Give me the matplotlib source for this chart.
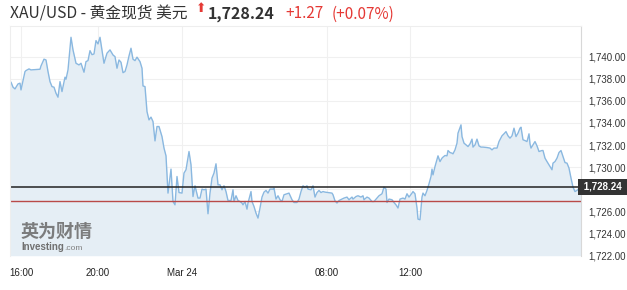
import matplotlib.pyplot as plt
import matplotlib.transforms as mtransforms
import numpy as np

# 数据
idx = [0, 1, 3, 5, 8, 10, 11, 15, 16, 19, 21, 25, 30, 31, 34, 36, 38, 40, 42, 44,
       46, 48, 50, 52, 55, 56, 58, 61, 63, 66, 69, 71, 74, 76, 78, 80, 82, 84, 86, 88,
       90, 94, 97, 100, 103, 105, 107, 109, 111, 113, 115, 117, 119, 121, 123, 125, 127, 130, 132, 133,
       135, 137, 139, 141, 143, 145, 147, 149, 152, 154, 156, 158, 161, 163, 165, 167, 169, 172, 174, 176,
       179, 181, 183, 185, 188, 190, 192, 194, 196, 198, 200, 202, 204, 206, 208, 210, 212, 214, 216, 218,
       221, 223, 224, 226, 228, 230, 232, 233, 235, 237, 238, 241, 242, 244, 246, 248, 250, 252, 254, 256,
       258, 260, 263, 264, 266, 268, 270, 272, 274, 277, 279, 282, 284, 287, 289, 291, 293, 295, 297, 298,
       301, 303, 305, 307, 309, 311, 313, 315, 318, 322, 323, 325, 327, 329, 332, 334, 337, 339, 342, 343,
       346, 348, 351, 353, 354, 357, 359, 362, 364, 367, 369, 372, 374, 376, 377, 379, 382, 384, 386, 388,
       390, 393, 395, 397, 399, 402, 403, 405, 407, 408, 410, 412, 413, 415, 417, 419, 421, 422, 423, 425,
       427, 428, 430, 432, 433, 435, 437, 438, 440, 442, 443, 445, 447, 448, 451, 452, 454, 456, 458, 460,
       462, 463, 465, 467, 469, 471, 473, 477, 480, 482, 484, 487, 489, 492, 494, 496, 498, 500, 502, 504,
       506, 508, 510, 511, 513, 515, 517, 519, 520, 521, 523, 525, 527, 529, 532, 533, 535, 537, 539, 542,
       543, 545, 547, 549, 551, 553, 555, 557, 559, 561, 563, 565, 567, 569, 571]
prices = [1737.75, 1737.69, 1737.24, 1737.08, 1737.53, 1737.60, 1736.99, 1738.65, 1738.74, 1738.89,
          1738.80, 1738.83, 1738.86, 1739.16, 1739.77, 1739.70, 1738.65, 1737.74, 1737.29, 1737.24,
          1736.69, 1736.33, 1737.74, 1736.84, 1738.14, 1737.96, 1738.80, 1741.75, 1740.61, 1739.40,
          1739.25, 1739.40, 1738.59, 1739.55, 1739.64, 1740.54, 1740.18, 1740.24, 1741.45, 1741.15,
          1741.75, 1739.40, 1740.31, 1740.61, 1740.15, 1740.00, 1738.95, 1739.70, 1739.49, 1738.55,
          1738.65, 1739.25, 1740.06, 1740.76, 1739.77, 1739.64, 1739.95, 1739.55, 1738.95, 1737.35,
          1737.29, 1735.03, 1734.28, 1734.53, 1734.13, 1732.38, 1733.68, 1733.68, 1732.77, 1731.73,
          1731.03, 1727.66, 1729.83, 1726.90, 1726.60, 1729.16, 1727.71, 1727.66, 1729.47, 1729.77,
          1731.42, 1730.22, 1727.35, 1728.32, 1727.21, 1727.21, 1728.02, 1727.96, 1728.02, 1725.79,
          1727.66, 1729.02, 1729.47, 1730.31, 1728.41, 1728.41, 1727.96, 1728.32, 1727.80, 1726.99,
          1726.99, 1727.96, 1726.90, 1727.42, 1726.99, 1726.90, 1726.76, 1726.60, 1726.90, 1726.21,
          1726.76, 1727.80, 1726.90, 1726.45, 1725.85, 1725.40, 1726.31, 1727.30, 1727.75, 1727.90,
          1727.66, 1728.02, 1728.02, 1728.11, 1727.12, 1727.42, 1727.06, 1726.90, 1727.51, 1727.60,
          1727.66, 1727.06, 1726.81, 1726.81, 1727.12, 1727.80, 1728.32, 1728.20, 1728.32, 1728.02,
          1727.96, 1728.32, 1727.30, 1727.71, 1727.90, 1727.71, 1727.80, 1727.75, 1727.71, 1727.66,
          1727.51, 1726.96, 1726.76, 1726.99, 1727.12, 1727.21, 1727.30, 1727.06, 1727.30, 1727.12,
          1727.35, 1727.42, 1727.30, 1727.42, 1727.06, 1727.30, 1727.21, 1726.90, 1726.90, 1727.21,
          1727.42, 1727.60, 1728.20, 1728.02, 1726.81, 1727.12, 1727.06, 1726.81, 1726.60, 1726.31,
          1727.12, 1727.21, 1727.12, 1727.60, 1727.30, 1727.66, 1727.80, 1727.60, 1726.31, 1725.31,
          1725.25, 1727.30, 1727.66, 1727.42, 1727.90, 1728.50, 1729.16, 1729.83, 1729.31, 1730.06,
          1730.73, 1731.03, 1730.51, 1730.82, 1730.91, 1731.06, 1731.03, 1731.51, 1731.33, 1731.27,
          1731.21, 1731.57, 1732.18, 1733.08, 1733.83, 1732.77, 1732.18, 1732.02, 1731.87, 1732.11,
          1732.54, 1731.82, 1732.02, 1732.54, 1731.93, 1731.82, 1731.82, 1731.78, 1731.73, 1731.57,
          1731.73, 1731.73, 1732.32, 1732.84, 1733.02, 1733.22, 1732.84, 1732.63, 1732.84, 1733.53,
          1732.77, 1733.08, 1733.53, 1733.62, 1732.48, 1732.41, 1732.32, 1733.02, 1732.11, 1731.73,
          1732.02, 1732.32, 1731.93, 1731.42, 1731.51, 1731.51, 1730.82, 1730.51, 1730.22, 1729.77,
          1730.37, 1730.51, 1730.82, 1731.33, 1731.51, 1730.97, 1730.42, 1730.37, 1729.92, 1729.02,
          1728.20, 1727.80, 1727.90, 1728.10, 1728.24]

tick_pos = [11, 88, 172, 317, 400]
tick_labels = ['16:00', '20:00', 'Mar 24', '08:00', '12:00']
y_ticks = np.arange(1722, 1741, 2)
last_price = 1728.24
prev_close = 1726.97

W, H = 627, 290
fig = plt.figure(figsize=(W / 100, H / 100), dpi=100)
ax = fig.add_axes([10 / W, 1 - 255.7 / H, 571 / W, (255.7 - 26) / H])

ax.fill_between(idx, prices, 1722, color='#e5eef5', lw=0)
ax.plot(idx, prices, color='#8ab8e0', lw=1.0)

ax.axhline(last_price, color='#222222', lw=1.1)
ax.axhline(prev_close, color='#b94a48', lw=1.0)

ax.set_xlim(0, 571)
ax.set_ylim(1722, 1742.77)

ax.set_xticks(tick_pos)
ax.set_xticklabels(tick_labels)
ax.set_yticks(y_ticks)
# 1,728.00 被最新价标签遮住
ax.set_yticklabels(['' if abs(v - last_price) < 0.8 else f'{v:,.2f}' for v in y_ticks])
ax.yaxis.tick_right()
ax.tick_params(axis='y', length=0, pad=5, labelsize=7, labelcolor='#333333')
ax.tick_params(axis='x', length=0, pad=9, labelsize=7, labelcolor='#222222')
for lab in ax.get_xticklabels() + ax.get_yticklabels():
    lab.set_family('Liberation Sans')

ax.grid(True, color='#f0f0f0', lw=0.8)
ax.set_axisbelow(True)
for s in ['left', 'top']:
    ax.spines[s].set_color('#eeeeee')
ax.spines['bottom'].set_visible(False)
ax.spines['right'].set_color('#d8d8d8')

# 最新价标签
trans = mtransforms.blended_transform_factory(ax.transAxes, ax.transData)
ax.text(1.0, last_price, ' 1,728.24 ', transform=trans, ha='left', va='center',
        fontsize=7, color='white', family='Liberation Sans', fontweight='bold',
        bbox=dict(boxstyle='square,pad=0.3', fc='#333333', ec='none'))

# 标题
fig.text(10 / W, 1 - 14 / H, 'XAU/USD - 黄金现货 美元', fontsize=11.3, color='#333333',
         family=['Noto Sans CJK SC', 'DejaVu Sans'], va='center')
fig.text(196 / W, 1 - 9 / H, '⬆', fontsize=9, color='#e53935', family='DejaVu Sans', va='center')
fig.text(208 / W, 1 - 14 / H, '1,728.24', fontsize=11.5, color='#333333', fontweight='bold',
         family='Noto Sans CJK SC', va='center')
fig.text(285 / W, 1 - 14 / H, '+1.27', fontsize=11, color='#e53935',
         family='Noto Sans CJK SC', va='center')
fig.text(332 / W, 1 - 14 / H, '(+0.07%)', fontsize=11, color='#e53935',
         family='Noto Sans CJK SC', va='center')

# 水印
fig.text(21 / W, 1 - 231 / H, '英为财情', fontsize=13, color='#707070', fontweight='bold',
         family='Noto Sans CJK SC', va='center', alpha=0.9)
inv = fig.text(21 / W, 1 - 250.5 / H, 'Investing', fontsize=7, color='#707070', fontweight='bold',
               family='Liberation Sans', va='baseline')
fig.canvas.draw()
bb = inv.get_window_extent()
fig.text((bb.x1 + 0.5) / W, 1 - 250.5 / H, '.com', fontsize=6, color='#808080',
         family='Liberation Sans', va='baseline')

fig.savefig('out.png', dpi=100)
